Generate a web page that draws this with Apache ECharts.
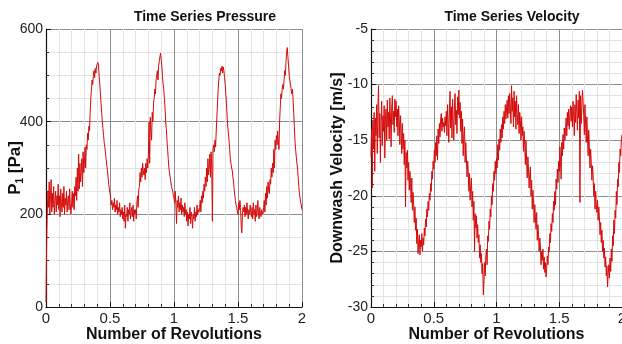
<!DOCTYPE html>
<html>
<head>
<meta charset="utf-8">
<script src="https://cdn.jsdelivr.net/npm/echarts@6/dist/echarts.min.js"></script>
<style>html,body{margin:0;padding:0;background:#fff;}#c{width:622px;height:344px;}</style>
</head>
<body>
<div id="c"></div>
<script>
// Number of Revolutions sampled every 0.005 from 0 to 2
const revStep = 0.005;
const xTicks = [0, 0.5, 1, 1.5, 2];
const pressureTicks = [0, 200, 400, 600];
const velocityTicks = [-30, -25, -20, -15, -10, -5];
const titles = ['Time Series Pressure', 'Time Series Velocity'];

// P1 [Pa]
const pressure = [
10, 140, 205, 250, 215, 270, 200, 240, 275, 205, 245, 215, 260, 200, 230, 250, 205, 240, 220, 265,
210, 240, 195, 255, 225, 205, 245, 215, 260, 200, 235, 220, 250, 205, 230, 240, 210, 255, 220, 200,
225, 250, 215, 245, 210, 260, 240, 280, 230, 300, 250, 330, 255, 310, 270, 290, 320, 260, 335, 290,
310, 345, 300, 350, 340, 375, 360, 390, 380, 420, 450, 470, 490, 480, 500, 510, 495, 515, 505, 520,
518, 528, 522, 500, 482, 460, 440, 420, 400, 385, 370, 355, 345, 330, 320, 305, 295, 280, 265, 255,
245, 235, 220, 230, 210, 225, 215, 235, 205, 220, 210, 230, 200, 215, 205, 225, 195, 210, 200, 215,
190, 205, 185, 220, 170, 200, 195, 215, 185, 210, 200, 225, 190, 205, 215, 195, 220, 185, 210, 200,
210, 190, 225, 240, 215, 255, 260, 290, 270, 300, 280, 310, 295, 285, 300, 275, 310, 290, 320, 300,
330, 400, 310, 410, 380, 360, 420, 400, 440, 450, 470, 460, 490, 500, 510, 490, 520, 530, 540, 548,
545, 520, 500, 480, 470, 450, 430, 400, 385, 360, 340, 320, 300, 290, 280, 270, 260, 255, 250, 240,
235, 225, 250, 220, 180, 230, 215, 240, 205, 225, 210, 235, 200, 220, 205, 215, 195, 225, 200, 210,
185, 205, 175, 200, 190, 215, 180, 205, 195, 170, 200, 190, 215, 185, 205, 195, 220, 200, 210, 205,
215, 230, 205, 240, 225, 250, 235, 265, 250, 280, 260, 300, 270, 320, 285, 300, 330, 280, 335, 300,
185, 340, 350, 335, 360, 345, 380, 410, 440, 470, 490, 505, 500, 515, 510, 520, 505, 518, 510, 495,
480, 460, 440, 410, 390, 375, 360, 340, 320, 310, 300, 295, 280, 270, 255, 240, 230, 220, 215, 205,
200, 225, 210, 230, 215, 175, 160, 200, 215, 205, 220, 195, 215, 200, 225, 205, 190, 210, 200, 220,
205, 195, 215, 190, 225, 200, 210, 185, 220, 195, 205, 230, 200, 190, 215, 200, 195, 210, 205, 200,
215, 230, 205, 245, 220, 260, 235, 270, 250, 245, 275, 265, 300, 280, 310, 290, 340, 300, 360, 340,
370, 350, 380, 360, 340, 400, 430, 460, 450, 470, 480, 470, 490, 510, 500, 530, 550, 560, 540, 520,
500, 490, 480, 470, 460, 470, 450, 420, 390, 360, 340, 325, 310, 300, 280, 260, 245, 235, 225, 220,
210
];

// Downwash Velocity [m/s]
const velocity = [
-16.5, -14.0, -19.3, -13.2, -15.8, -12.5, -17.8, -13.0, -14.6, -11.8, -16.2, -12.0, -10.1, -14.8, -12.6, -17.0, -13.4, -11.5, -15.5, -12.8,
-14.2, -11.9, -16.6, -13.1, -12.2, -15.0, -11.4, -13.8, -12.5, -14.9, -11.2, -13.0, -15.6, -12.1, -11.0, -13.6, -12.4, -14.3, -11.3, -12.9,
-11.5, -13.8, -12.2, -14.6, -11.9, -13.1, -15.4, -12.8, -14.0, -16.2, -13.5, -15.8, -14.4, -17.2, -15.0, -21.0, -16.1, -17.5, -15.9, -18.6,
-17.0, -19.5, -17.8, -18.9, -20.6, -18.4, -21.3, -19.7, -20.8, -22.4, -21.0, -23.1, -22.0, -24.3, -23.0, -25.2, -24.1, -23.5, -25.3, -24.0,
-24.6, -23.4, -25.0, -23.8, -24.4, -22.9, -23.6, -22.1, -22.8, -21.2, -21.9, -20.5, -21.3, -19.8, -20.4, -18.9, -19.6, -17.8, -18.5, -16.9,
-17.6, -15.9, -17.0, -15.2, -16.4, -14.6, -16.8, -14.0, -15.3, -13.5, -14.7, -13.1, -12.6, -14.2, -13.0, -13.8, -13.4, -14.3, -12.9, -13.7,
-12.4, -14.6, -11.8, -13.5, -15.2, -12.2, -10.6, -13.9, -12.0, -14.8, -11.3, -13.2, -15.0, -11.9, -10.8, -13.6, -12.3, -14.4, -11.1, -12.7,
-10.5, -13.0, -11.6, -14.2, -12.4, -15.3, -13.1, -16.4, -14.5, -13.8, -17.0, -15.2, -16.6, -18.3, -16.9, -17.8, -19.6, -18.0, -20.4, -19.1,
-18.4, -21.0, -19.6, -22.2, -20.5, -25.0, -21.6, -22.9, -21.8, -23.8, -22.6, -24.2, -23.5, -25.6, -24.4, -26.0, -25.2, -27.0, -26.1, -28.9,
-27.6, -26.0, -27.2, -25.4, -24.8, -26.2, -23.6, -24.1, -22.3, -23.0, -21.2, -21.9, -20.0, -20.8, -18.9, -19.6, -17.8, -18.6, -16.9, -18.0,
-16.6, -17.5, -15.4, -16.8, -14.9, -15.9, -14.0, -15.2, -13.6, -14.8, -12.9, -14.0, -12.4, -13.5, -11.8, -13.1, -12.2, -11.4, -13.0, -11.0,
-12.6, -10.8, -12.0, -13.5, -10.1, -12.4, -11.2, -13.8, -10.6, -12.9, -11.5, -14.0, -11.0, -12.7, -13.6, -11.8, -14.4, -12.5, -13.2, -15.0,
-12.9, -14.6, -13.8, -16.0, -14.2, -15.5, -17.2, -15.0, -16.8, -18.4, -16.5, -17.6, -19.3, -18.0, -17.4, -20.0, -18.6, -21.2, -19.5, -20.6,
-22.4, -20.8, -21.9, -23.0, -21.5, -24.0, -22.6, -23.5, -25.0, -23.8, -24.6, -26.2, -25.0, -25.8, -24.8, -26.6, -25.5, -26.9, -26.0, -27.3,
-26.5, -25.4, -26.2, -24.6, -25.0, -23.4, -24.2, -22.5, -23.2, -21.6, -22.4, -20.5, -21.3, -19.6, -20.8, -18.5, -19.4, -17.6, -18.8, -16.9,
-17.8, -15.6, -16.9, -18.5, -15.2, -16.4, -14.5, -15.8, -13.9, -15.0, -14.2, -13.0, -14.6, -12.5, -13.7, -12.2, -14.0, -12.8, -11.9, -13.3,
-12.0, -13.8, -11.5, -12.9, -14.6, -11.8, -13.4, -10.9, -12.6, -14.1, -11.4, -13.0, -10.6, -20.6, -11.0, -13.5, -12.1, -10.5, -11.6, -12.8,
-14.5, -11.8, -13.6, -15.2, -12.9, -14.8, -16.4, -14.1, -15.6, -17.5, -15.8, -17.0, -18.6, -17.3, -18.2, -20.0, -18.9, -21.2, -19.6, -20.8,
-21.5, -20.4, -22.2, -21.0, -22.0, -23.5, -22.4, -24.2, -23.1, -25.0, -24.0, -25.6, -24.7, -26.4, -25.5, -27.2, -26.3, -28.2, -27.0, -26.2,
-27.4, -25.6, -26.8, -24.8, -25.9, -23.6, -24.5, -22.2, -23.4, -21.3, -22.0, -19.6, -20.8, -18.5, -19.2, -17.0, -17.9, -15.8, -16.4, -14.9,
-14.5
];

const FONT = "'Liberation Sans', Arial, sans-serif";
const toPairs = arr => arr.map((v, i) => [+(i * revStep).toFixed(3), v]);

function xAxisCfg(gridIndex) {
  return {
    type: 'value', gridIndex: gridIndex,
    min: xTicks[0], max: xTicks[xTicks.length - 1], interval: xTicks[1] - xTicks[0],
    name: 'Number of Revolutions', nameLocation: 'middle', nameGap: 20, nameMoveOverlap: false,
    nameTextStyle: { fontFamily: FONT, fontWeight: 'bold', fontSize: 16, color: '#111' },
    axisLine: { show: true, onZero: false, lineStyle: { color: '#111', width: 1.2 } },
    axisTick: { show: true, inside: true, length: 5, lineStyle: { color: '#111' } },
    minorTick: { show: true, splitNumber: 5, length: 3, lineStyle: { color: '#333' } },
    axisLabel: { fontFamily: FONT, fontSize: 15, color: '#222', margin: 4 },
    splitLine: { show: true, lineStyle: { color: '#8e8e8e', width: 1 } },
    minorSplitLine: { show: true, lineStyle: { color: '#e4e4e4', width: 1 } }
  };
}
function yAxisCfg(gridIndex, ticks, minorSplit, name, nameGap) {
  return {
    type: 'value', gridIndex: gridIndex,
    min: ticks[0], max: ticks[ticks.length - 1], interval: ticks[1] - ticks[0],
    name: name, nameLocation: 'middle', nameGap: nameGap, nameMoveOverlap: false,
    nameTextStyle: {
      fontFamily: FONT, fontWeight: 'bold', fontSize: 16, color: '#111',
      rich: {
        a: { fontFamily: FONT, fontWeight: 'bold', fontSize: 17, color: '#111', lineHeight: 20 },
        b: { fontFamily: FONT, fontWeight: 'bold', fontSize: 10, color: '#111', verticalAlign: 'bottom', lineHeight: 13 }
      }
    },
    axisLine: { show: true, onZero: false, lineStyle: { color: '#111', width: 1.2 } },
    axisTick: { show: true, inside: true, length: 5, lineStyle: { color: '#111' } },
    minorTick: { show: true, splitNumber: minorSplit, length: 3, lineStyle: { color: '#333' } },
    axisLabel: { fontFamily: FONT, fontSize: 14, color: '#222', margin: 3 },
    splitLine: { show: true, lineStyle: { color: '#8e8e8e', width: 1 } },
    minorSplitLine: { show: true, lineStyle: { color: '#e4e4e4', width: 1 } }
  };
}

const chart = echarts.init(document.getElementById('c'), null, { renderer: 'canvas' });
chart.setOption({
  animation: false,
  backgroundColor: '#fff',
  graphic: [
    { type: 'text', x: 205, y: 17, style: { text: titles[0], align: 'center', verticalAlign: 'middle', fontFamily: FONT, fontWeight: 'bold', fontSize: 14, fill: '#111' } },
    { type: 'text', x: 512, y: 17, style: { text: titles[1], align: 'center', verticalAlign: 'middle', fontFamily: FONT, fontWeight: 'bold', fontSize: 14, fill: '#111' } }
  ],
  grid: [
    { left: 46, top: 29, width: 256, height: 278, containLabel: false, outerBoundsMode: 'none' },
    { left: 371, top: 29, width: 251, height: 278, containLabel: false, outerBoundsMode: 'none' }
  ],
  xAxis: [xAxisCfg(0), xAxisCfg(1)],
  yAxis: [
    yAxisCfg(0, pressureTicks, 4, '{a|P}{b|1}{a| [Pa]}', 21),
    yAxisCfg(1, velocityTicks, 5, 'Downwash Velocity [m/s]', 25)
  ],
  series: [
    { type: 'line', xAxisIndex: 0, yAxisIndex: 0, data: toPairs(pressure), showSymbol: false, symbol: 'none',
      lineStyle: { color: '#d40b0b', width: 1 }, sampling: null },
    { type: 'line', xAxisIndex: 1, yAxisIndex: 1, data: toPairs(velocity), showSymbol: false, symbol: 'none',
      lineStyle: { color: '#d40b0b', width: 1 }, sampling: null }
  ]
});
</script>
</body>
</html>
